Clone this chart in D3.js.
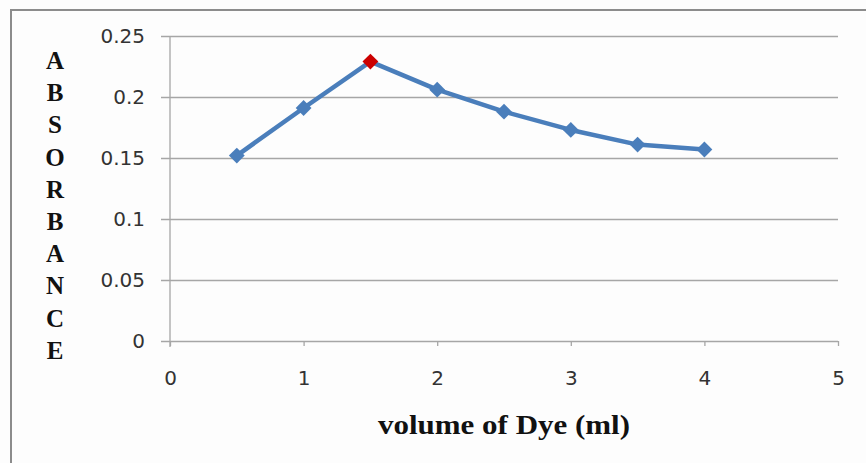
<!DOCTYPE html>
<html>
<head>
<meta charset="utf-8">
<script src="https://cdn.jsdelivr.net/npm/d3@7"></script>
<style>
  body { margin: 0; background: #fff; }
  svg { display: block; }
</style>
</head>
<body>
<script>
// data
let volumes = [0.5, 1, 1.5, 2, 2.5, 3, 3.5, 4];
let absorbance = [0.152, 0.191, 0.229, 0.206, 0.188, 0.173, 0.161, 0.157];
let maxIndex = 2; // the peak point is drawn in red
let xTicks = [0, 1, 2, 3, 4, 5];
let yTicks = [0, 0.05, 0.1, 0.15, 0.2, 0.25];
let yTickLabels = ["0", "0.05", "0.1", "0.15", "0.2", "0.25"];
let yTitle = "ABSORBANCE".split("");
let xTitle = "volume of Dye (ml)";

let width = 866;
let height = 463;

let svg = d3.select("body")
    .append("svg")
    .attr("width", width)
    .attr("height", height);

svg.append("rect")
    .attr("width", width)
    .attr("height", height)
    .attr("fill", "#fdfdfd");

// outer frame (only top and left edges fall inside the picture)
svg.append("rect")
    .attr("x", 11)
    .attr("y", 10)
    .attr("width", 900)
    .attr("height", 500)
    .attr("fill", "none")
    .attr("stroke", "#8c8c8c")
    .attr("stroke-width", 2);

let x = d3.scaleLinear().domain([0, 5]).range([170, 838]);
let y = d3.scaleLinear().domain([0, 0.25]).range([341, 36]);
let gridLeft = 161;

// horizontal gridlines + y labels
let yAxis = svg.append("g")
    .attr("transform", "translate(" + x(5) + ",0)")
    .call(d3.axisLeft(y)
        .tickValues(yTicks)
        .tickSize(x(5) - gridLeft)
        .tickPadding(16)
        .tickFormat(function(d, i) { return yTickLabels[i]; }));
yAxis.select(".domain").remove();
yAxis.selectAll("line").attr("stroke", "#a6a6a6").attr("stroke-width", 1.3);
yAxis.selectAll("text")
    .attr("font-family", "DejaVu Sans")
    .attr("font-size", 20)
    .attr("fill", "#333");

// x axis ticks + labels
let xAxis = svg.append("g")
    .attr("transform", "translate(0," + y(0) + ")")
    .call(d3.axisBottom(x)
        .tickValues(xTicks)
        .tickSize(5)
        .tickSizeOuter(0)
        .tickFormat(d3.format("d")));
xAxis.select(".domain").remove();
xAxis.selectAll("line").attr("stroke", "#a6a6a6").attr("stroke-width", 1.3);
xAxis.selectAll("text")
    .attr("y", 44)
    .attr("dy", 0)
    .attr("font-family", "DejaVu Sans")
    .attr("font-size", 20)
    .attr("fill", "#333");

// vertical axis line
svg.append("line")
    .attr("x1", x(0)).attr("x2", x(0))
    .attr("y1", y(0.25)).attr("y2", y(0) + 6)
    .attr("stroke", "#a6a6a6")
    .attr("stroke-width", 1.3);

// series line
let points = volumes.map(function(v, i) { return [v, absorbance[i]]; });
let line = d3.line()
    .x(function(d) { return x(d[0]); })
    .y(function(d) { return y(d[1]); });

svg.append("path")
    .datum(points)
    .attr("d", line)
    .attr("fill", "none")
    .attr("stroke", "#4a7ebb")
    .attr("stroke-width", 4.5)
    .attr("stroke-linejoin", "round");

let diamond = d3.symbol().type(d3.symbolDiamond2).size(160);
svg.selectAll(".marker")
    .data(points)
    .enter()
    .append("path")
    .attr("class", "marker")
    .attr("d", diamond)
    .attr("transform", function(d) { return "translate(" + x(d[0]) + "," + y(d[1]) + ")"; })
    .attr("fill", function(d, i) { return i == maxIndex ? "#cc0000" : "#4a7ebb"; });

// y title, one letter per row
svg.append("g")
    .selectAll("text")
    .data(yTitle)
    .enter()
    .append("text")
    .attr("x", 55)
    .attr("y", function(d, i) { return 69 + i * 32.2; })
    .attr("text-anchor", "middle")
    .attr("font-family", "Liberation Serif")
    .attr("font-weight", "bold")
    .attr("font-size", 25)
    .attr("fill", "#111")
    .text(function(d) { return d; });

// x title
svg.append("text")
    .attr("x", 378)
    .attr("y", 434)
    .attr("textLength", 252)
    .attr("lengthAdjust", "spacingAndGlyphs")
    .attr("font-family", "Liberation Serif")
    .attr("font-weight", "bold")
    .attr("font-size", 28)
    .attr("fill", "#111")
    .text(xTitle);
</script>
</body>
</html>
